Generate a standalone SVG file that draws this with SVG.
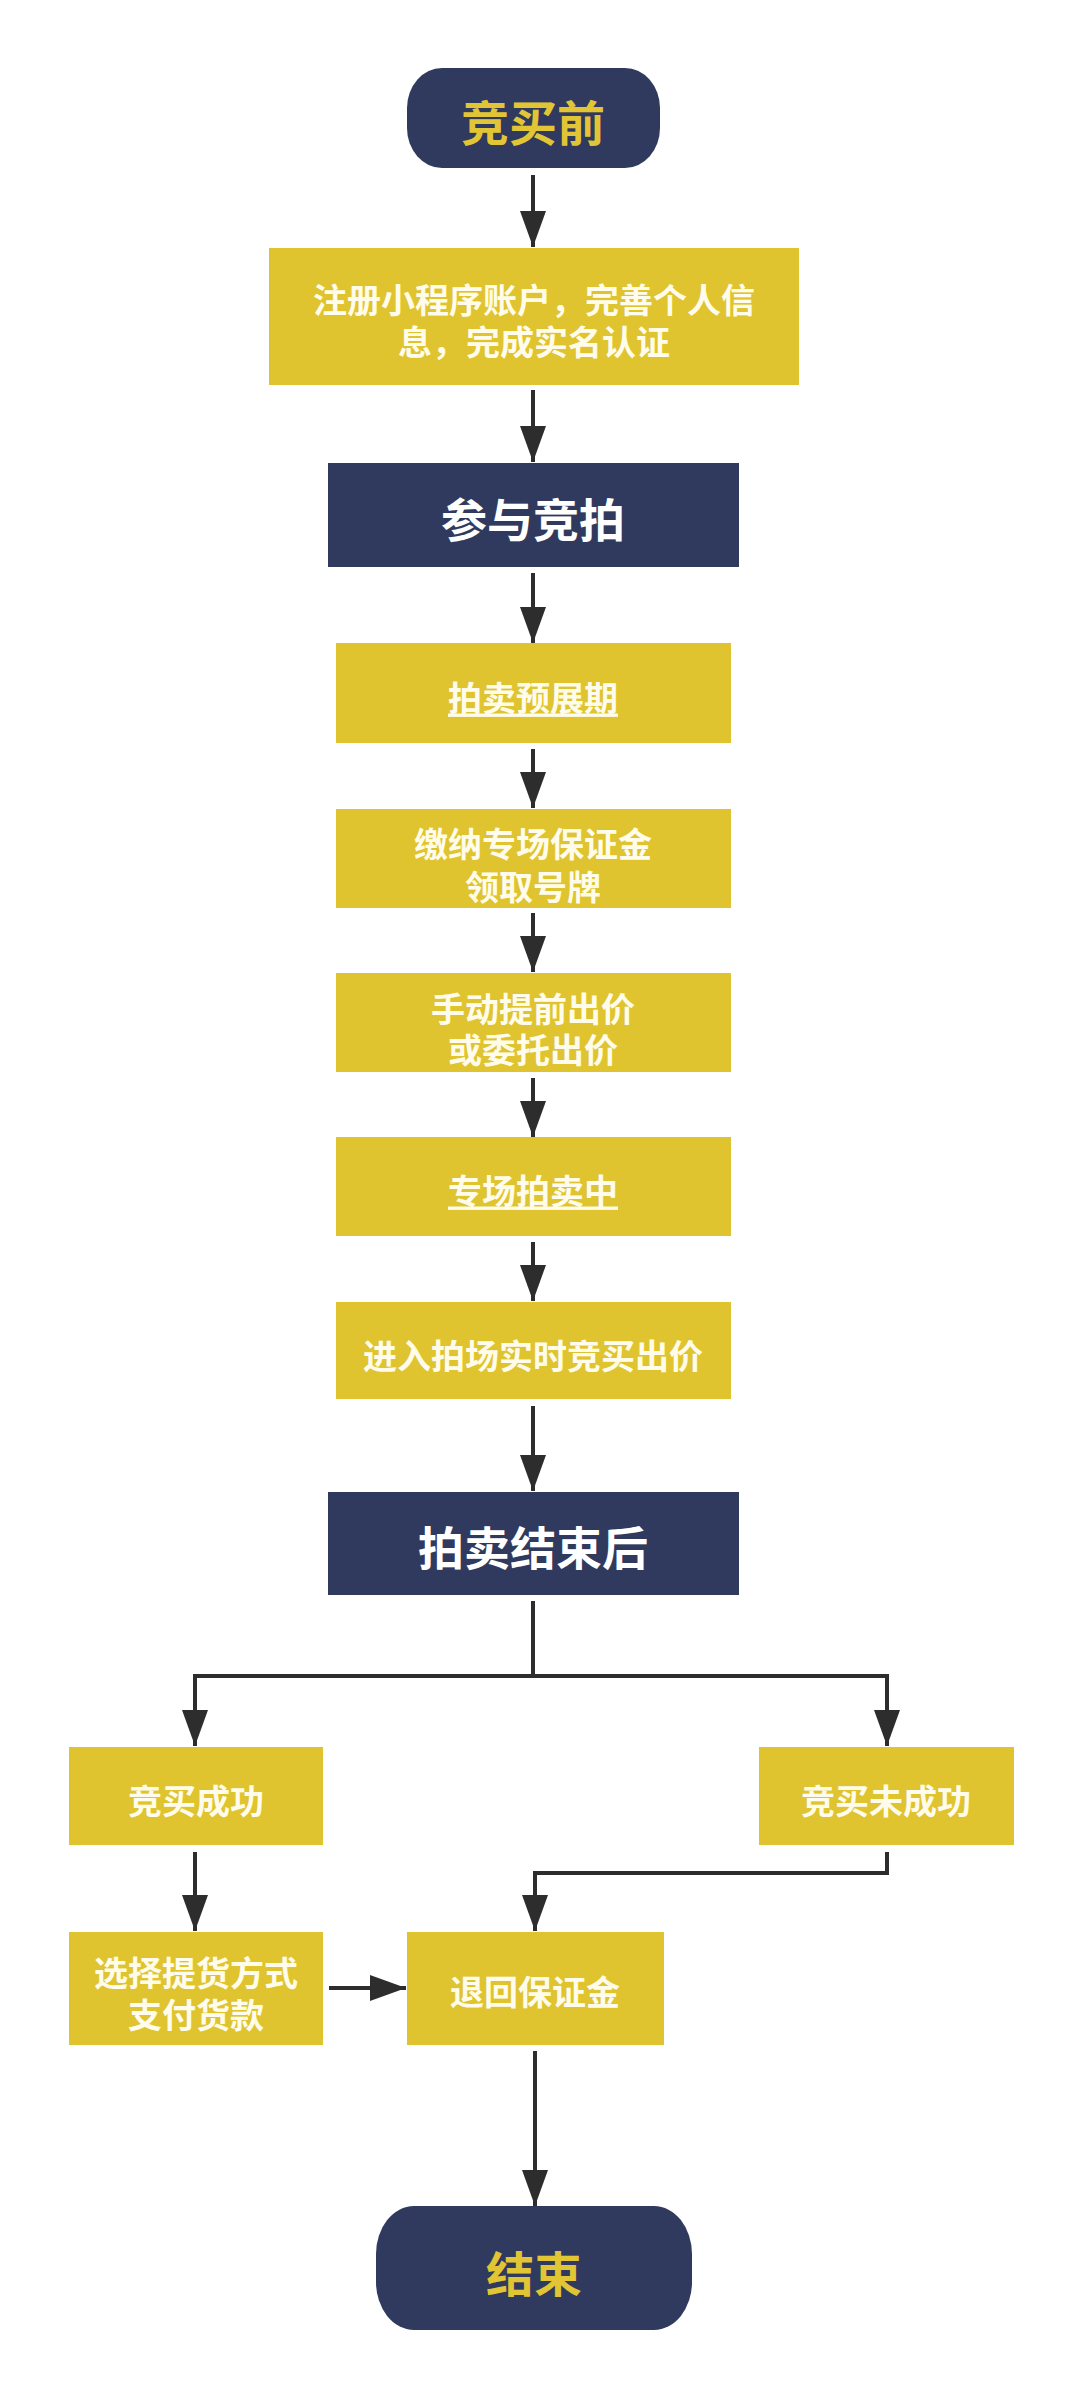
<svg xmlns="http://www.w3.org/2000/svg" width="1080" height="2397" viewBox="0 0 1080 2397">
  <style>
    .navy { fill: #2f3a5e; }
    .yel { fill: #dfc42f; }
    text { font-family: "Noto Sans CJK SC", "Noto Sans", sans-serif; font-weight: 700; text-anchor: middle; dominant-baseline: central; }
    .t { fill: #fffcec; font-size: 34px; }
    .big { fill: #ffffff; font-size: 46px; }
    .cap { fill: #e2c535; font-size: 48px; }
    .u { text-decoration: underline; }
    .conn { stroke: #2d2d2d; stroke-width: 4; fill: none; }
  </style>
  <defs>
    <marker id="ah" markerUnits="userSpaceOnUse" markerWidth="36" markerHeight="26" refX="36" refY="13" orient="auto">
      <path d="M0,0 L36,13 L0,26 Z" fill="#2d2d2d"/>
    </marker>
  </defs>
  <rect width="1080" height="2397" fill="#ffffff"/>

  <g id="connectors">
    <line class="conn" x1="533" y1="175" x2="533" y2="247" marker-end="url(#ah)"/>
    <line class="conn" x1="533" y1="390" x2="533" y2="462" marker-end="url(#ah)"/>
    <line class="conn" x1="533" y1="573" x2="533" y2="643" marker-end="url(#ah)"/>
    <line class="conn" x1="533" y1="749" x2="533" y2="808" marker-end="url(#ah)"/>
    <line class="conn" x1="533" y1="913" x2="533" y2="972" marker-end="url(#ah)"/>
    <line class="conn" x1="533" y1="1078" x2="533" y2="1137" marker-end="url(#ah)"/>
    <line class="conn" x1="533" y1="1242" x2="533" y2="1301" marker-end="url(#ah)"/>
    <line class="conn" x1="533" y1="1406" x2="533" y2="1491" marker-end="url(#ah)"/>
    <polyline class="conn" points="533,1601 533,1676"/>
    <polyline class="conn" points="533,1676 195,1676 195,1746" marker-end="url(#ah)"/>
    <polyline class="conn" points="533,1676 887,1676 887,1746" marker-end="url(#ah)"/>
    <line class="conn" x1="195" y1="1852" x2="195" y2="1931" marker-end="url(#ah)"/>
    <polyline class="conn" points="887,1852 887,1873 535,1873 535,1931" marker-end="url(#ah)"/>
    <line class="conn" x1="329" y1="1988" x2="406" y2="1988" marker-end="url(#ah)"/>
    <line class="conn" x1="535" y1="2051" x2="535" y2="2206" marker-end="url(#ah)"/>
  </g>

  <g id="n-start">
    <rect class="navy" x="407" y="68" width="253" height="100" rx="35" ry="40"/>
    <text class="cap" x="533" y="120">竞买前</text>
  </g>
  <g id="n-register">
    <rect class="yel" x="269" y="248" width="530" height="137"/>
    <text class="t" x="534" y="298"><tspan x="534" y="298">注册小程序账户，完善个人信</tspan><tspan x="534" y="340">息，完成实名认证</tspan></text>
  </g>
  <g id="n-join">
    <rect class="navy" x="328" y="463" width="411" height="104"/>
    <text class="big" x="533" y="517">参与竞拍</text>
  </g>
  <g id="n-preview">
    <rect class="yel" x="336" y="643" width="395" height="100"/>
    <text class="t u" x="533" y="696">拍卖预展期</text>
  </g>
  <g id="n-deposit">
    <rect class="yel" x="336" y="809" width="395" height="99"/>
    <text class="t" x="533" y="842"><tspan x="533" y="842">缴纳专场保证金</tspan><tspan x="533" y="885">领取号牌</tspan></text>
  </g>
  <g id="n-prebid">
    <rect class="yel" x="336" y="973" width="395" height="99"/>
    <text class="t" x="533" y="1007"><tspan x="533" y="1007">手动提前出价</tspan><tspan x="533" y="1048">或委托出价</tspan></text>
  </g>
  <g id="n-live">
    <rect class="yel" x="336" y="1137" width="395" height="99"/>
    <text class="t u" x="533" y="1189">专场拍卖中</text>
  </g>
  <g id="n-realtime">
    <rect class="yel" x="336" y="1302" width="395" height="97"/>
    <text class="t" x="533" y="1354">进入拍场实时竞买出价</text>
  </g>
  <g id="n-after">
    <rect class="navy" x="328" y="1492" width="411" height="103"/>
    <text class="big" x="533" y="1545">拍卖结束后</text>
  </g>
  <g id="n-success">
    <rect class="yel" x="69" y="1747" width="254" height="98"/>
    <text class="t" x="196" y="1799">竞买成功</text>
  </g>
  <g id="n-fail">
    <rect class="yel" x="759" y="1747" width="255" height="98"/>
    <text class="t" x="886" y="1799">竞买未成功</text>
  </g>
  <g id="n-pay">
    <rect class="yel" x="69" y="1932" width="254" height="113"/>
    <text class="t" x="196" y="1971"><tspan x="196" y="1971">选择提货方式</tspan><tspan x="196" y="2013">支付货款</tspan></text>
  </g>
  <g id="n-refund">
    <rect class="yel" x="407" y="1932" width="257" height="113"/>
    <text class="t" x="535" y="1990">退回保证金</text>
  </g>
  <g id="n-end">
    <rect class="navy" x="376" y="2206" width="316" height="124" rx="38" ry="48"/>
    <text class="cap" x="534" y="2271">结束</text>
  </g>
</svg>
